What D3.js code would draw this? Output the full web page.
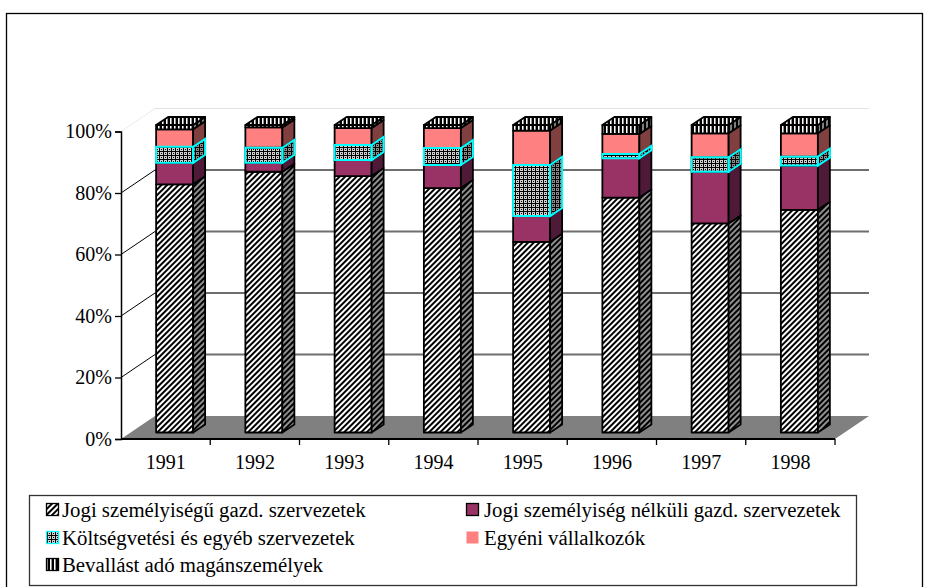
<!DOCTYPE html>
<html>
<head>
<meta charset="utf-8">
<script src="https://cdn.jsdelivr.net/npm/d3@7/dist/d3.min.js"></script>
<style>
  body { margin: 0; background: #fff; }
  text { font-family: "Liberation Serif", "Times New Roman", serif; fill: #000; }
</style>
</head>
<body>
<svg id="chart" width="925" height="587"></svg>
<script>
var years = ["1991", "1992", "1993", "1994", "1995", "1996", "1997", "1998"];

// shares in percent
var jogi     = [80.7, 84.8, 83.4, 79.5, 62.0, 76.4, 68.0, 72.4];
var nelkuli  = [ 7.0,  2.9,  5.2,  7.5,  8.4, 12.8, 16.8, 14.4];
var koltseg  = [ 5.2,  4.9,  4.9,  5.5, 16.6,  1.4,  4.7,  2.9];
var egyeni   = [ 5.7,  6.6,  5.5,  6.5, 11.2,  6.5,  7.8,  7.6];
var bevallas = [ 1.4,  0.8,  1.0,  1.0,  1.8,  2.9,  2.7,  2.7];

var seriesNames = [
   "Jogi személyiségű gazd. szervezetek",
   "Jogi személyiség nélküli gazd. szervezetek",
   "Költségvetési és egyéb szervezetek",
   "Egyéni vállalkozók",
   "Bevallást adó magánszemélyek"
];
var yTicks = [0, 0.2, 0.4, 0.6, 0.8, 1];

var keys = ["jogi", "nelkuli", "koltseg", "egyeni", "bevallas"];
var table = years.map(function(yr, i) {
   return { year: yr, jogi: jogi[i], nelkuli: nelkuli[i], koltseg: koltseg[i], egyeni: egyeni[i], bevallas: bevallas[i] };
});
var stacked = d3.stack().keys(keys).offset(d3.stackOffsetExpand)(table);

var svg = d3.select("#chart");

// 3d geometry (wall depth, bar offset into the room, bar depth)
var wall = { dx: 34, dy: -23 };
var off = { dx: 9, dy: -6.5 };
var bd = { dx: 12, dy: -8 };
var barW = 37;

var x = d3.scaleBand().domain(years).range([121, 835]);
var y = d3.scaleLinear().domain([0, 1]).range([439, 131.5]);

// ---- patterns
var defs = svg.append("defs");

function stripePattern(id, bg, fg, rot) {
   var p = defs.append("pattern").attr("id", id)
      .attr("patternUnits", "userSpaceOnUse")
      .attr("width", 4).attr("height", 4);
   if (rot) p.attr("patternTransform", "rotate(" + rot + ")");
   p.append("rect").attr("width", 4).attr("height", 4).attr("fill", bg);
   p.append("rect").attr("width", 2).attr("height", 4).attr("fill", fg);
   return p;
}
stripePattern("hatchFront", "#fff", "#000", 45);
stripePattern("hatchSide", "#909090", "#000", 45);
stripePattern("vstripeFront", "#fff", "#000", 0).append("rect")
   .attr("x", 3).attr("width", 1).attr("height", 4).attr("fill", "#909090");
stripePattern("vstripeSide", "#808080", "#000", 0);

function gridPattern(id, light) {
   var p = defs.append("pattern").attr("id", id)
      .attr("patternUnits", "userSpaceOnUse")
      .attr("width", 4).attr("height", 4);
   p.append("rect").attr("width", 4).attr("height", 4).attr("fill", "#000");
   p.append("rect").attr("width", 3).attr("height", 3).attr("fill", light);
   p.append("rect").attr("x", 1).attr("y", 1).attr("width", 1).attr("height", 1).attr("fill", "#000");
}
gridPattern("gridFront", "#d0d0d0");
gridPattern("gridSide", "#8a8a8a");

var styles = {
   jogi:     { front: "url(#hatchFront)", side: "url(#hatchSide)", stroke: "#000" },
   nelkuli:  { front: "#993366", side: "#4f1a38", stroke: "#000" },
   koltseg:  { front: "url(#gridFront)", side: "url(#gridSide)", stroke: "#00ffff" },
   egyeni:   { front: "#ff8080", side: "#804040", stroke: "#000" },
   bevallas: { front: "url(#vstripeFront)", side: "url(#vstripeSide)", top: "url(#vstripeFront)", stroke: "#000" }
};

// ---- outer frame
svg.append("rect").attr("x", 6.5).attr("y", 13.5).attr("width", 916).attr("height", 600)
   .attr("fill", "none").attr("stroke", "#000").attr("stroke-width", 1.3);

// ---- floor
var xl = x.range()[0], xr = x.range()[1];
svg.append("polygon")
   .attr("points", [[xl, y(0)], [xr, y(0)], [xr + wall.dx, y(0) + wall.dy], [xl + wall.dx, y(0) + wall.dy]].join(" "))
   .attr("fill", "#808080");

// ---- back wall gridlines and side diagonals
yTicks.forEach(function(t) {
   if (t === 0) return;
   var top = t === 1;
   svg.append("line")
      .attr("x1", xl + wall.dx).attr("x2", xr + wall.dx)
      .attr("y1", y(t) + wall.dy).attr("y2", y(t) + wall.dy)
      .attr("stroke", top ? "#e2e2e2" : "#6e6e6e").attr("stroke-width", top ? 1 : 2);
   svg.append("line")
      .attr("x1", xl).attr("x2", xl + wall.dx)
      .attr("y1", y(t)).attr("y2", y(t) + wall.dy)
      .attr("stroke", top ? "#e2e2e2" : "#000").attr("stroke-width", 1)
      .attr("stroke-dasharray", top ? "2,1" : null);
});

// ---- axes
var yAxis = svg.append("g").attr("transform", "translate(" + xl + ",0)")
   .call(d3.axisLeft(y).tickValues(yTicks).tickFormat(d3.format(".0%")).tickSize(6).tickPadding(3));
yAxis.select(".domain").attr("stroke-width", 1.5);
yAxis.selectAll(".tick line").attr("stroke-width", 1.3);
yAxis.selectAll("text").attr("font-size", 20).attr("font-family", "Liberation Serif").attr("fill", "#000");

svg.append("line").attr("x1", xl).attr("x2", xr).attr("y1", y(0)).attr("y2", y(0))
   .attr("stroke", "#000").attr("stroke-width", 2);
years.forEach(function(yr) {
   var xx = x(yr) + x.bandwidth();
   svg.append("line").attr("x1", xx).attr("x2", xx).attr("y1", y(0)).attr("y2", y(0) + 6)
      .attr("stroke", "#000").attr("stroke-width", 1.3);
   svg.append("text").attr("x", x(yr) + x.bandwidth() / 2).attr("y", 469)
      .attr("text-anchor", "middle").attr("font-size", 20).text(yr);
});

// ---- bars
function pts(a) { return a.map(function(p) { return p.join(","); }).join(" "); }

var bars = svg.append("g");
years.forEach(function(yr, i) {
   var x0 = x(yr) + (x.bandwidth() - barW) / 2 + off.dx, x1 = x0 + barW;
   var g = bars.append("g");
   var cyanFaces = [];
   stacked.forEach(function(layer, li) {
      var k = layer.key, st = styles[k];
      var yb = y(layer[i][0]) + off.dy, yt = y(layer[i][1]) + off.dy;
      var front = [[x0, yt], [x1, yt], [x1, yb], [x0, yb]];
      var side = [[x1, yt], [x1 + bd.dx, yt + bd.dy], [x1 + bd.dx, yb + bd.dy], [x1, yb]];
      var faces = [[front, st.front], [side, st.side]];
      if (li === stacked.length - 1) {
         faces.push([[[x0, yt], [x0 + bd.dx, yt + bd.dy], [x1 + bd.dx, yt + bd.dy], [x1, yt]], st.top || st.front]);
      }
      faces.forEach(function(f) {
         g.append("polygon").attr("points", pts(f[0])).attr("fill", f[1])
            .attr("stroke", "#000").attr("stroke-width", 1.8).attr("stroke-linejoin", "round");
      });
      if (st.stroke !== "#000") cyanFaces.push(front, side);
   });
   cyanFaces.forEach(function(f) {
      g.append("polygon").attr("points", pts(f)).attr("fill", "none")
         .attr("stroke", "#00ffff").attr("stroke-width", 2);
   });
});

// ---- legend
svg.append("rect").attr("x", 29.5).attr("y", 495.5).attr("width", 827).attr("height", 90)
   .attr("fill", "#fff").attr("stroke", "#333").attr("stroke-width", 1.3);

var legX = [46, 466], legTextX = [62, 484], legY = [517, 545, 572];
keys.forEach(function(k, i) {
   var col = i % 2, row = Math.floor(i / 2);
   var st = styles[k];
   svg.append("rect").attr("x", legX[col] + 0.5).attr("y", legY[row] - 13.5)
      .attr("width", 12).attr("height", 12).attr("fill", st.front)
      .attr("stroke", k === "egyeni" ? "none" : st.stroke).attr("stroke-width", 1.3);
   svg.append("text").attr("x", legTextX[col]).attr("y", legY[row])
      .attr("font-size", 20.8).text(seriesNames[i]);
});
</script>
</body>
</html>
